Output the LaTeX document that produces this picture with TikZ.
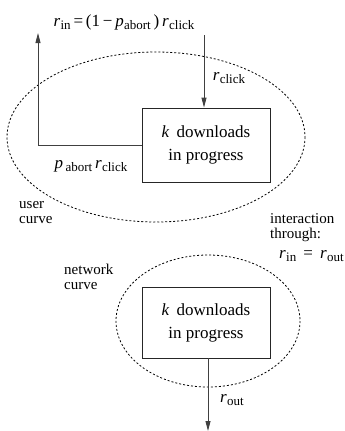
\documentclass[tikz,border=0pt]{standalone}
\usepackage{fontspec}
\setmainfont{Liberation Serif}
\usetikzlibrary{arrows.meta}
\newcommand\vr[2]{\textit{#1}\kern0.3pt\raisebox{-0.45ex}{\fontsize{13}{13}\selectfont #2}}
\tikzset{
  box/.style={draw=black!85, line width=0.9pt, minimum width=128pt, minimum height=74pt, inner sep=0pt, align=center, font=\fontsize{17}{23}\selectfont},
  curve/.style={draw=black, line width=0.8pt, dash pattern=on 2pt off 2pt},
  flow/.style={draw=black!75, line width=0.9pt, -{Triangle[length=10pt,width=5pt]}},
  lbl/.style={inner sep=0pt, font=\fontsize{17}{17}\selectfont},
  note/.style={inner sep=0pt, align=left, anchor=north west, font=\fontsize{15}{15}\selectfont}
}
\begin{document}
\begin{tikzpicture}[x=1pt,y=-1pt]
\useasboundingbox (0,0) rectangle (345,431);
% user curve
\draw[curve] (156,137) ellipse [x radius=149, y radius=85];
\node[box] (b1) at (206,145) {\textit{k}\, downloads\\in progress};
\coordinate (tin) at (204,35);
\coordinate (tret) at (38,33);
\draw[flow] (tin) -- (tin |- b1.north);
\draw[flow] (b1.west) -| (tret);
\node[lbl] (formula) at (124,22) {\vr{r}{in}\,=\,(1\,−\,\vr{p}{abort}\,)\,\vr{r}{click}};
\node[lbl] (rclick) at (229,78) {\vr{r}{click}};
\node[lbl] (pabort) at (91,166) {\vr{p}{\,abort}\,\vr{r}{click}};
\node[note] (user) at (19,201) {user\\curve};
\node[note] (inter) at (270,213) {interaction\\through:};
\node[lbl, anchor=west] (eq) at (279,256) {\vr{r}{in}\, = \,\vr{r}{out}};
% network curve
\draw[curve] (208,321) ellipse [x radius=92, y radius=66];
\node[note] (net) at (64,264) {network\\curve};
\node[box, minimum height=71pt] (b2) at (206,322.5) {\textit{k}\, downloads\\in progress};
\coordinate (tout) at (208,431);
\draw[flow] (b2.south -| tout) -- (tout);
\node[lbl] (rout) at (232,400) {\vr{r}{out}};
\end{tikzpicture}
\end{document}
